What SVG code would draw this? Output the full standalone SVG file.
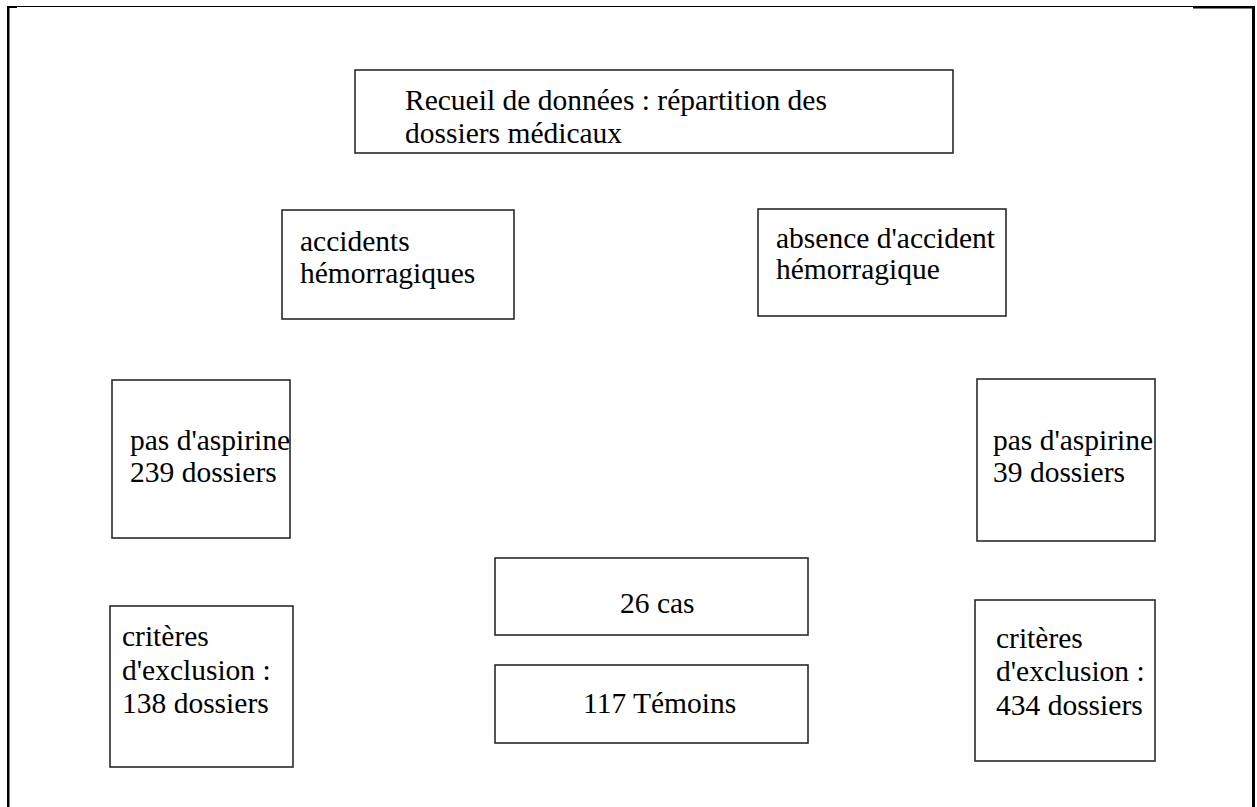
<svg xmlns="http://www.w3.org/2000/svg" width="1257" height="807" viewBox="0 0 1257 807">
<style>
.box{fill:#fff;stroke:#2a2a2a;stroke-width:1.6}
.t{font-family:"Liberation Serif","Times New Roman","DejaVu Serif",serif;font-size:29.5px;fill:#000}
</style>
<rect x="0" y="0" width="1257" height="807" fill="#fff"/>
<g id="frame">
<line x1="7" y1="6.5" x2="1254" y2="6.5" stroke="#000" stroke-width="1.2"/>
<rect x="7" y="6" width="10" height="2" fill="#000"/>
<rect x="1193" y="6" width="62" height="2.5" fill="#000"/>
<rect x="7" y="6" width="2.5" height="801" fill="#000"/>
<rect x="1252" y="6" width="3" height="801" fill="#000"/>
</g>
<g id="connectors"></g>
<g id="n-recueil">
<rect class="box" x="355" y="70" width="598" height="83"/>
<text class="t" x="405" y="110">Recueil de données : répartition des</text>
<text class="t" x="405" y="143">dossiers médicaux</text>
</g>
<g id="n-accidents">
<rect class="box" x="282" y="210" width="232" height="109"/>
<text class="t" x="300" y="251">accidents</text>
<text class="t" x="300" y="283">hémorragiques</text>
</g>
<g id="n-absence">
<rect class="box" x="758" y="209" width="248" height="107"/>
<text class="t" x="776" y="248">absence d'accident</text>
<text class="t" x="776" y="279">hémorragique</text>
</g>
<g id="n-aspirine-left">
<rect class="box" x="112" y="380" width="178" height="158"/>
<text class="t" x="130" y="450">pas d'aspirine</text>
<text class="t" x="130" y="482">239 dossiers</text>
</g>
<g id="n-aspirine-right">
<rect class="box" x="977" y="379" width="178" height="162"/>
<text class="t" x="993" y="450">pas d'aspirine</text>
<text class="t" x="993" y="482">39 dossiers</text>
</g>
<g id="n-cas">
<rect class="box" x="495" y="558" width="313" height="77"/>
<text class="t" x="620" y="613">26 cas</text>
</g>
<g id="n-temoins">
<rect class="box" x="495" y="665" width="313" height="78"/>
<text class="t" x="583" y="713">117 Témoins</text>
</g>
<g id="n-exclusion-left">
<rect class="box" x="110" y="606" width="183" height="161"/>
<text class="t" x="122" y="646">critères</text>
<text class="t" x="122" y="680">d'exclusion :</text>
<text class="t" x="122" y="713">138 dossiers</text>
</g>
<g id="n-exclusion-right">
<rect class="box" x="975" y="600" width="180" height="161"/>
<text class="t" x="996" y="648">critères</text>
<text class="t" x="996" y="681">d'exclusion :</text>
<text class="t" x="996" y="715">434 dossiers</text>
</g>
</svg>
